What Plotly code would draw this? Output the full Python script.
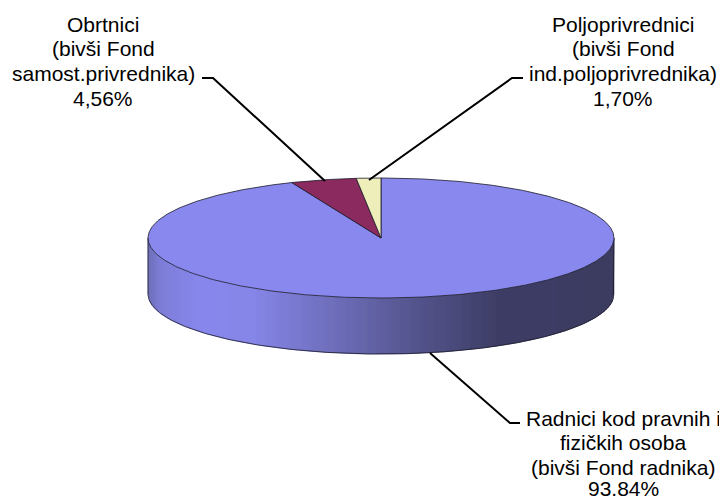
import numpy as np
import plotly.graph_objects as go

categories = ["Radnici kod pravnih i fizičkih osoba (bivši Fond radnika)",
              "Obrtnici (bivši Fond samost.privrednika)",
              "Poljoprivrednici (bivši Fond ind.poljoprivrednika)"]
values = [93.84, 4.56, 1.70]
colors = ["#8888EE", "#8A2A5E", "#EEEEBB"]
label_lines = [["Radnici kod pravnih i", "fizičkih osoba", "(bivši Fond radnika)", "93.84%"],
               ["Obrtnici", "(bivši Fond", "samost.privrednika)", "4,56%"],
               ["Poljoprivrednici", "(bivši Fond", "ind.poljoprivrednika)", "1,70%"]]
label_centers = [(623, [418, 442, 467, 488]), (103, [24, 48, 73, 98]), (623, [24, 48, 73, 98])]
leaders = [([430, 510, 520], [353, 423, 423]),
           ([202, 213, 325], [78, 78, 181]),
           ([523, 512, 369], [78, 78, 180])]

CX, CY, RX, RY, DEPTH = 381, 238, 233, 60, 56
side_stops = [(148, (110, 110, 180)), (160, (126, 126, 216)), (200, (136, 136, 238)), (255, (134, 134, 232)),
              (330, (112, 112, 190)), (420, (84, 84, 140)), (500, (62, 62, 102)), (614, (60, 60, 98))]

fig = go.Figure()
EDGE = "#1a1a2a"

def ell(theta):
    return CX + RX * np.sin(theta), CY - RY * np.cos(theta)

# side wall, as narrow strips carrying the shading
sx = [s[0] for s in side_stops]
for x0 in np.arange(CX - RX, CX + RX, 2.0):
    x1 = min(x0 + 2.0, CX + RX)
    xs = np.array([x0, x1])
    top = CY + RY * np.sqrt(np.clip(1 - ((xs - CX) / RX) ** 2, 0, 1))
    xm = (x0 + x1) / 2
    c = [int(np.interp(xm, sx, [s[1][i] for s in side_stops])) for i in range(3)]
    col = f"rgb({c[0]},{c[1]},{c[2]})"
    fig.add_trace(go.Scatter(x=[x0, x1, x1, x0, x0],
                             y=[top[0], top[1], top[1] + DEPTH, top[0] + DEPTH, top[0]],
                             mode="lines", fill="toself", fillcolor=col,
                             line=dict(color=col, width=0.6), hoverinfo="skip", showlegend=False))

# side outline
t = np.linspace(np.pi / 2, 3 * np.pi / 2, 240)
ex, ey = ell(t)
fig.add_trace(go.Scatter(x=np.r_[ex[0], ex, ex[-1]], y=np.r_[ey[0] , ey + DEPTH, ey[-1]],
                         mode="lines", line=dict(color=EDGE, width=0.8),
                         hoverinfo="skip", showlegend=False))

# top slices, sized from the values
frac = np.array(values) / sum(values)
start = 0.0
for name, f, col in zip(categories, frac, colors):
    end = start + f * 2 * np.pi
    t = np.linspace(start, end, max(int(f * 720), 8))
    ex, ey = ell(t)
    fig.add_trace(go.Scatter(x=np.r_[CX, ex, CX], y=np.r_[CY, ey, CY], mode="lines", fill="toself",
                             fillcolor=col, line=dict(color=EDGE, width=0.8),
                             name=name, hoverinfo="name", showlegend=False))
    start = end

# leader lines
for lx, ly in leaders:
    fig.add_trace(go.Scatter(x=lx, y=ly, mode="lines", line=dict(color="black", width=2),
                             hoverinfo="skip", showlegend=False))

annotations = []
for lines, (xc, ys) in zip(label_lines, label_centers):
    for text, y in zip(lines, ys):
        annotations.append(dict(x=xc, y=y, xref="x", yref="y", text=text, showarrow=False,
                                xanchor="center", yanchor="middle",
                                font=dict(family="Liberation Sans, Arial, sans-serif", size=21, color="black")))

# the page body has an 8px margin, so the figure covers page pixels 8..727 and 8..497
fig.update_layout(width=719, height=489, margin=dict(l=0, r=0, t=0, b=0),
                  paper_bgcolor="white", plot_bgcolor="white", annotations=annotations,
                  xaxis=dict(range=[8, 727], visible=False, fixedrange=True),
                  yaxis=dict(range=[497, 8], visible=False, fixedrange=True))
fig.write_html("out.html", config=dict(displayModeBar=False))
